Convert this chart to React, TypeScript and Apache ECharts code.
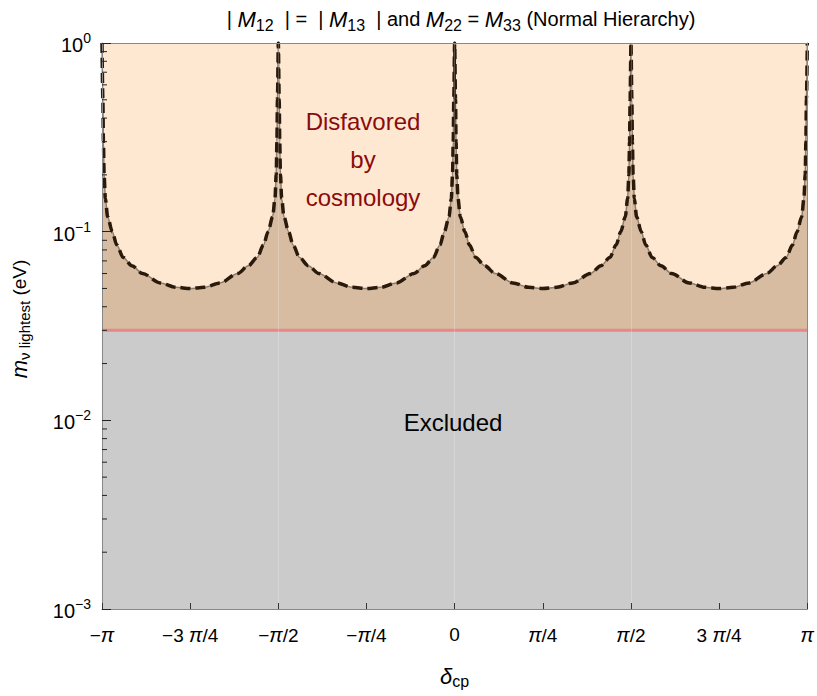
import React, { useEffect, useRef } from 'react';
import * as echarts from 'echarts';

// delta_cp in units of pi
const deltaCp = [
  -1, -0.9975, -0.996, -0.994, -0.9905, -0.984, -0.971, -0.958, -0.94, -0.915, -0.885, -0.835, -0.79, -0.75,
  -0.71, -0.665, -0.615, -0.585, -0.56, -0.542, -0.529, -0.516, -0.5095, -0.506, -0.504, -0.5025, -0.5,
  -0.4975, -0.496, -0.494, -0.4905, -0.484, -0.471, -0.458, -0.44, -0.415, -0.385, -0.335, -0.29, -0.25,
  -0.21, -0.165, -0.115, -0.085, -0.06, -0.042, -0.029, -0.016, -0.0095, -0.006, -0.004, -0.0025, 0,
  0.0025, 0.004, 0.006, 0.0095, 0.016, 0.029, 0.042, 0.06, 0.085, 0.115, 0.165, 0.21, 0.25,
  0.29, 0.335, 0.385, 0.415, 0.44, 0.458, 0.471, 0.484, 0.4905, 0.494, 0.496, 0.4975, 0.5,
  0.5025, 0.504, 0.506, 0.5095, 0.516, 0.529, 0.542, 0.56, 0.585, 0.615, 0.665, 0.71, 0.75,
  0.79, 0.835, 0.885, 0.915, 0.94, 0.958, 0.971, 0.984, 0.9905, 0.994, 0.996, 0.9975, 1,
];
// m_lightest (eV)
const mLightest = [
  1, 0.5, 0.3, 0.2, 0.15, 0.12, 0.1, 0.085, 0.073, 0.066, 0.06, 0.0535, 0.0507, 0.05,
  0.0507, 0.0535, 0.06, 0.066, 0.073, 0.085, 0.1, 0.12, 0.15, 0.2, 0.3, 0.5, 1,
  0.5, 0.3, 0.2, 0.15, 0.12, 0.1, 0.085, 0.073, 0.066, 0.06, 0.0535, 0.0507, 0.05,
  0.0507, 0.0535, 0.06, 0.066, 0.073, 0.085, 0.1, 0.12, 0.15, 0.2, 0.3, 0.5, 1,
  0.5, 0.3, 0.2, 0.15, 0.12, 0.1, 0.085, 0.073, 0.066, 0.06, 0.0535, 0.0507, 0.05,
  0.0507, 0.0535, 0.06, 0.066, 0.073, 0.085, 0.1, 0.12, 0.15, 0.2, 0.3, 0.5, 1,
  0.5, 0.3, 0.2, 0.15, 0.12, 0.1, 0.085, 0.073, 0.066, 0.06, 0.0535, 0.0507, 0.05,
  0.0507, 0.0535, 0.06, 0.066, 0.073, 0.085, 0.1, 0.12, 0.15, 0.2, 0.3, 0.5, 1,
];
const cosmologyBound = 0.03;
const xTickLabels = ['−π', '−3 π/4', '−π/2', '−π/4', '0', 'π/4', 'π/2', '3 π/4', 'π'];
const yMinorTicks = [
  0.002, 0.003, 0.004, 0.005, 0.006, 0.007, 0.008, 0.009,
  0.02, 0.03, 0.04, 0.05, 0.06, 0.07, 0.08, 0.09,
  0.2, 0.3, 0.4, 0.5, 0.6, 0.7, 0.8, 0.9,
];
const meshLines = [-0.5, 0, 0.5];

const FONT = 'Liberation Sans, Arial, Helvetica, sans-serif';

export default function App() {
  const ref = useRef<HTMLDivElement>(null);
  useEffect(() => {
    const chart = echarts.init(ref.current!, null, { renderer: 'svg' });
    const curve = deltaCp.map((x, i) => [x, mLightest[i]]);
    const option: any = {
      animation: false,
      backgroundColor: '#ffffff',
      textStyle: { fontFamily: FONT },
      title: {
        text: '| {i|M}{sub|12}  | =  | {i|M}{sub|13}  | and {i|M}{sub|22} = {i|M}{sub|33} (Normal Hierarchy)',
        left: 456,
        top: 0,
        textAlign: 'center',
        textStyle: {
          fontFamily: FONT,
          fontSize: 20,
          fontWeight: 'normal',
          color: '#000',
          lineHeight: 28,
          rich: {
            i: { fontFamily: FONT, fontSize: 22, fontStyle: 'italic', color: '#000', lineHeight: 28 },
            sub: { fontFamily: FONT, fontSize: 16, color: '#000', verticalAlign: 'bottom', lineHeight: 20 },
          },
        },
      },
      grid: { left: 98, right: 9, top: 43, bottom: 87 },
      xAxis: [
        {
          type: 'value',
          min: -1,
          max: 1,
          interval: 0.25,
          z: 10,
          name: '{d|δ}{sub|cp}',
          nameLocation: 'middle',
          nameGap: 54,
          nameTextStyle: {
            color: '#000',
            rich: {
              d: { fontFamily: FONT, fontSize: 22, fontStyle: 'italic', color: '#000', lineHeight: 26 },
              sub: { fontFamily: FONT, fontSize: 16, color: '#000', verticalAlign: 'bottom', lineHeight: 18 },
            },
          },
          axisLine: { show: true, onZero: false, lineStyle: { color: '#888', width: 1 } },
          axisTick: { show: true, inside: true, length: 6, lineStyle: { color: '#333' } },
          splitLine: { show: false },
          axisLabel: {
            margin: 16,
            color: '#000',
            fontSize: 19,
            fontFamily: FONT,
            formatter: (v: number) => {
              const idx = Math.round((v + 1) / 0.25);
              const s = xTickLabels[idx] ?? '';
              return s.replace(/π/g, '{p|π}');
            },
            rich: { p: { fontFamily: FONT, fontSize: 20, fontStyle: 'italic', color: '#000' } },
          },
        },
        {
          type: 'value',
          min: -1,
          max: 1,
          position: 'top',
          z: 10,
          axisLine: { show: true, onZero: false, lineStyle: { color: '#888', width: 1 } },
          axisTick: { show: false },
          axisLabel: { show: false },
          splitLine: { show: false },
        },
      ],
      yAxis: [
        {
          type: 'log',
          logBase: 10,
          min: 0.001,
          max: 1,
          z: 10,
          name: '{m|m}{sub|ν lightest} (eV)',
          nameLocation: 'middle',
          nameGap: 70,
          nameRotate: 90,
          nameTextStyle: {
            color: '#000',
            fontSize: 19,
            fontFamily: FONT,
            padding: [0, 0, 0, 14],
            rich: {
              m: { fontFamily: FONT, fontSize: 22, fontStyle: 'italic', color: '#000', lineHeight: 26 },
              sub: { fontFamily: FONT, fontSize: 15, color: '#000', verticalAlign: 'bottom', lineHeight: 18 },
            },
          },
          axisLine: { show: true, onZero: false, lineStyle: { color: '#888', width: 1 } },
          axisTick: { show: true, inside: true, length: 9, lineStyle: { color: '#222' } },
          splitLine: { show: false },
          axisLabel: {
            margin: 11,
            color: '#000',
            fontFamily: FONT,
            fontSize: 19,
            formatter: (v: number) => `{b|10}{s|${Math.round(Math.log10(v)) === 0 ? '0' : '−' + Math.abs(Math.round(Math.log10(v)))}}`,
            rich: {
              b: { fontFamily: FONT, fontSize: 20, color: '#000', verticalAlign: 'bottom', lineHeight: 24 },
              s: { fontFamily: FONT, fontSize: 14, color: '#000', verticalAlign: 'top', lineHeight: 16 },
            },
          },
        },
        {
          type: 'log',
          logBase: 10,
          min: 0.001,
          max: 1,
          position: 'right',
          z: 10,
          axisLine: { show: true, onZero: false, lineStyle: { color: '#888', width: 1 } },
          axisTick: { show: false },
          axisLabel: { show: false },
          splitLine: { show: false },
        },
      ],
      series: [
        {
          name: 'background',
          type: 'line',
          z: 1,
          silent: true,
          showSymbol: false,
          symbol: 'none',
          data: [[-1, 1], [1, 1]],
          lineStyle: { width: 0 },
          areaStyle: { color: '#fee8d2', opacity: 1, origin: 'start' },
        },
        {
          name: 'allowed',
          type: 'line',
          z: 2,
          silent: true,
          symbol: 'none',
          smooth: 0.3,
          smoothMonotone: 'x',
          data: curve,
          lineStyle: { color: '#8e7b69', width: 1.5 },
          areaStyle: { color: '#d7bca1', opacity: 1, origin: 'start' },
        },
        {
          name: 'excluded',
          type: 'line',
          z: 3,
          silent: true,
          symbol: 'none',
          data: [[-1, cosmologyBound], [1, cosmologyBound]],
          lineStyle: { color: '#e9868a', width: 3 },
          areaStyle: { color: '#cbcbcb', opacity: 1, origin: 'start' },
          markLine: {
            silent: true,
            symbol: 'none',
            label: { show: false },
            lineStyle: { color: 'rgba(255,255,255,0.22)', width: 1, type: 'solid' },
            data: meshLines.map((x) => ({ xAxis: x })),
          },
        },
        {
          name: 'bound',
          type: 'line',
          z: 4,
          silent: true,
          symbol: 'none',
          smooth: 0.3,
          smoothMonotone: 'x',
          data: curve,
          lineStyle: { color: '#2a1a0b', width: 3.5, type: [10, 5] },
        },
        {
          name: 'minorTicks',
          type: 'custom',
          coordinateSystem: 'cartesian2d',
          z: 20,
          silent: true,
          data: yMinorTicks.map((v) => [-1, v]),
          renderItem: (_p: any, api: any) => {
            const pt = api.coord([api.value(0), api.value(1)]);
            return {
              type: 'line',
              shape: { x1: pt[0], y1: pt[1], x2: pt[0] + 5, y2: pt[1] },
              style: { stroke: '#222', lineWidth: 1 },
            };
          },
        },
      ],
      graphic: [
        {
          type: 'text',
          x: 363,
          y: 159,
          z: 30,
          style: {
            text: 'Disfavored\nby\ncosmology',
            fill: '#8b0b0b',
            fontSize: 24,
            fontFamily: FONT,
            align: 'center',
            verticalAlign: 'middle',
            lineHeight: 38,
          },
        },
        {
          type: 'text',
          x: 453,
          y: 422,
          z: 30,
          style: {
            text: 'Excluded',
            fill: '#000',
            fontSize: 24,
            fontFamily: FONT,
            align: 'center',
            verticalAlign: 'middle',
          },
        },
      ],
    };
    chart.setOption(option);
    return () => chart.dispose();
  }, []);
  return (
    <div
      ref={ref}
      style={{ position: 'fixed', left: 0, top: 0, width: 817, height: 696, background: '#fff' }}
    />
  );
}
